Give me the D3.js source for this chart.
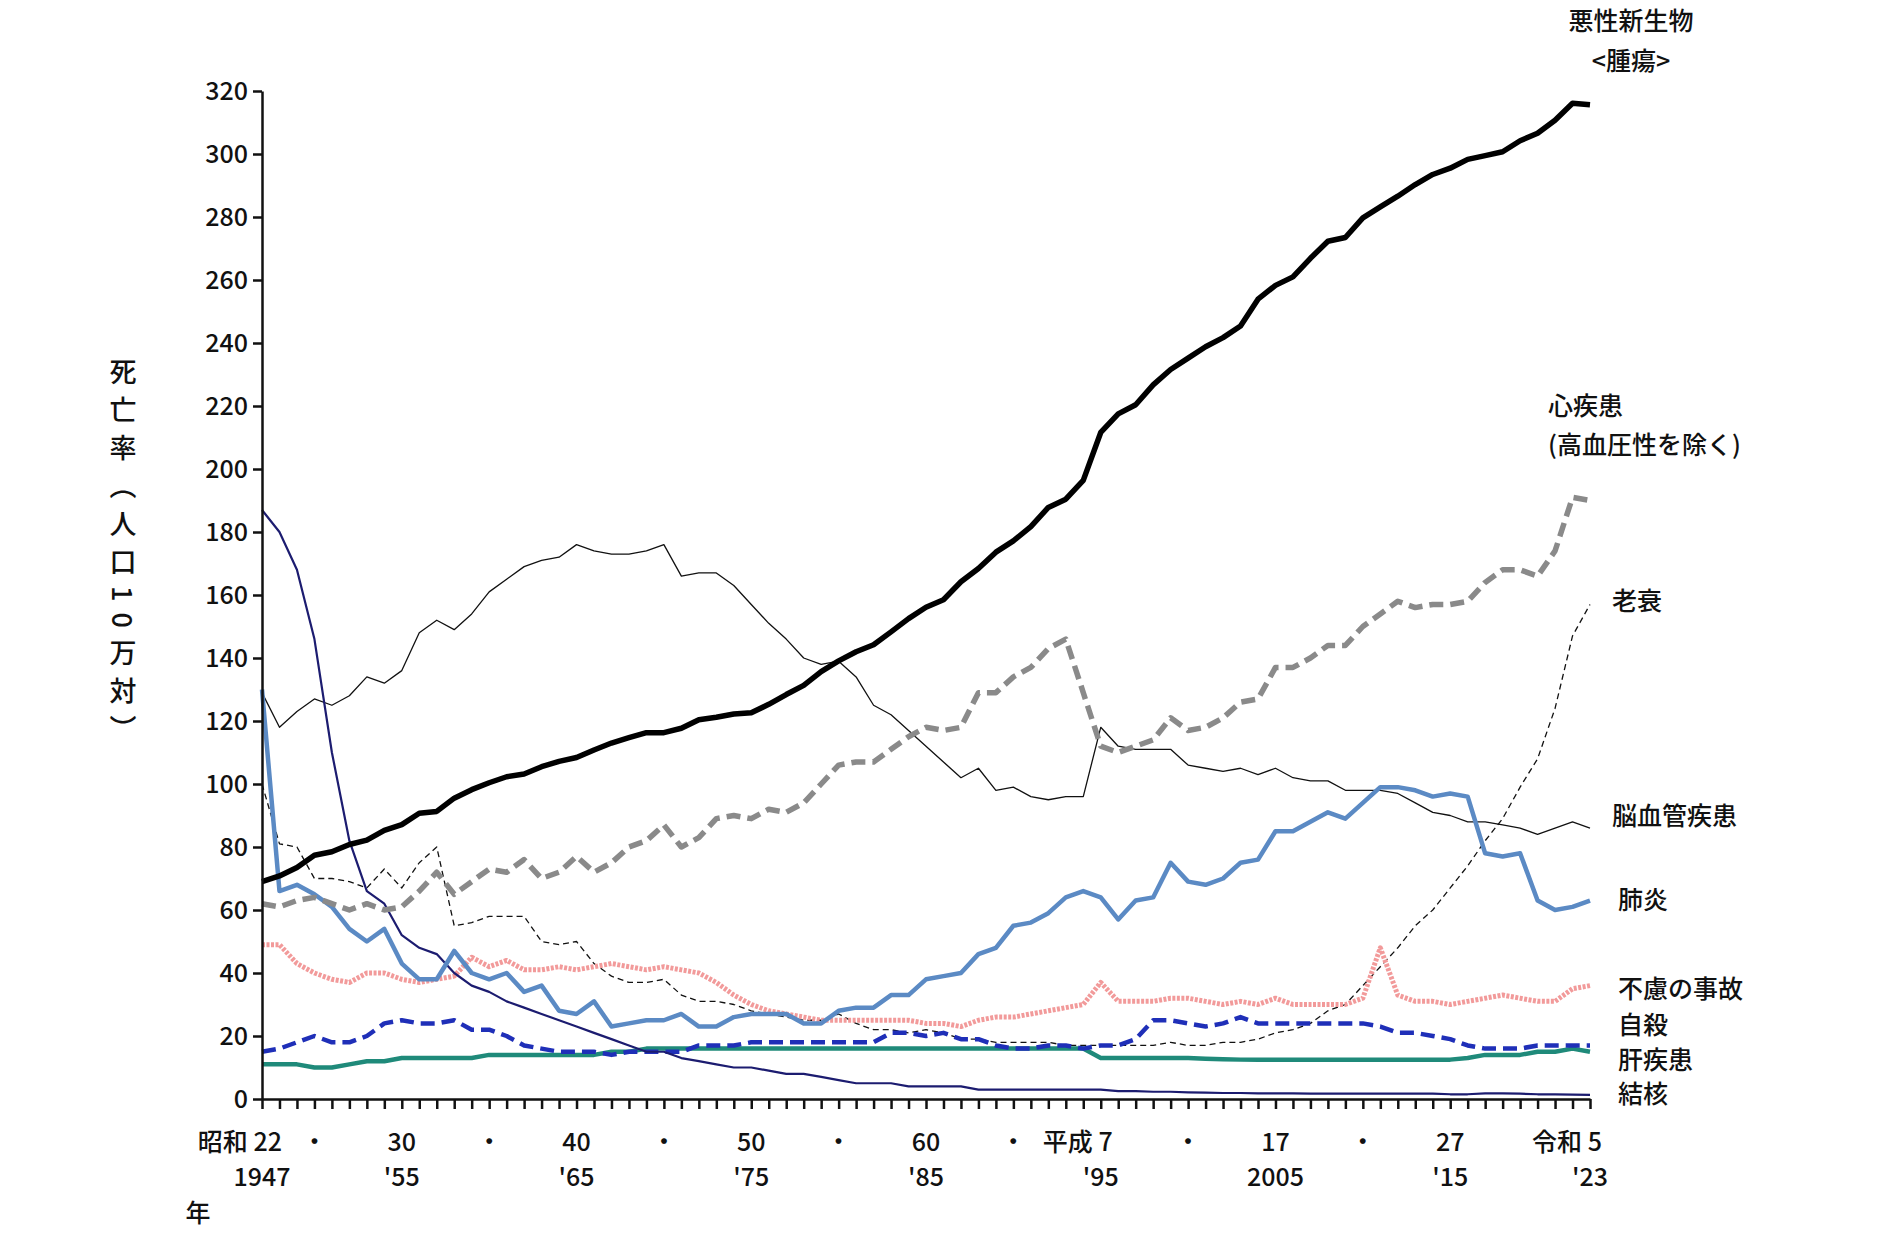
<!DOCTYPE html>
<html><head><meta charset="utf-8">
<script src="https://cdn.jsdelivr.net/npm/d3@7"></script>
<style>
body{margin:0;background:#fff}
text{font-family:"Noto Sans CJK JP","Noto Sans",sans-serif;font-weight:500;fill:#111}
</style></head>
<body><svg id="canvas" width="1898" height="1260"></svg>
<script>
// 年 (1947〜2023)
const years = d3.range(1947, 2024)

const cancer = [69.0,70.8,73.5,77.4,78.5,80.8,82.2,85.3,87.1,90.7,91.3,95.5,98.2,100.4,102.3,103.2,105.5,107.2,108.4,110.8,113.0,114.7,116.3,116.3,117.7,120.4,121.2,122.2,122.6,125.3,128.4,131.3,135.7,139.1,142.0,144.2,148.3,152.5,156.1,158.5,164.2,168.4,173.6,177.2,181.7,187.8,190.4,196.4,211.6,217.5,220.4,226.7,231.6,235.2,238.8,241.7,245.4,253.9,258.3,261.0,266.9,272.3,273.5,279.7,283.2,286.6,290.3,293.5,295.5,298.3,299.5,300.7,304.2,306.6,310.7,316.1,315.6]
const heart = [62,61,63,64,62,60,62,60,61,66,72,65,69,73,72,76,70,72,77,72,75,80,82,87,80,83,89,90,89,92,91,94,100,106,107,107,111,115,118,117,118,129,129,134,137,143,146,129,112,110,112,114,121,117,118,121,126,127,137,137,140,144,144,150,154,158,156,157,157,158,164,168,168,166,174,191,190]
const cerebro = [129,118,123,127,125,128,134,132,136,148,152,149,154,161,165,169,171,172,176,174,173,173,174,176,166,167,167,163,157,151,146,140,138,139,134,125,122,117,112,107,102,105,98,99,96,95,96,96,118,112,111,111,111,106,105,104,105,103,105,102,101,101,98,98,98,97,94,91,90,88,88,87,86,84,86,88,86]
const pneumonia = [130,66,68,65,61,54,50,54,43,38,38,47,40,38,40,34,36,28,27,31,23,24,25,25,27,23,23,26,27,27,27,24,24,28,29,29,33,33,38,39,40,46,48,55,56,59,64,66,64,57,63,64,75,69,68,70,75,76,85,85,88,91,89,94,99,99,98,96,97,96,78,77,78,63,60,61,63]
const tb = [187,180,168,146,110,82,66,62,52,48,46,40,36,34,31,29,27,25,23,21,19,17,15,15,13,12,11,10,10,9,8,8,7,6,5,5,5,4,4,4,4,3,3,3,3,3,3,3,3,2.5,2.5,2.3,2.3,2.1,2.0,1.9,1.9,1.8,1.8,1.8,1.7,1.7,1.7,1.7,1.7,1.7,1.7,1.7,1.5,1.5,1.8,1.8,1.7,1.5,1.5,1.4,1.3]
const accident = [49,49,43,40,38,37,40,40,38,37,38,39,45,42,44,41,41,42,41,42,43,42,41,42,41,40,37,33,30,28,27,26,25,25,25,25,25,25,24,24,23,25,26,26,27,28,29,30,37,31,31,31,32,32,31,30,31,30,32,30,30,30,30,32,48,33,31,31,30,31,32,33,32,31,31,35,36]
const suicide = [15,16,18,20,18,18,20,24,25,24,24,25,22,22,20,17,16,15,15,15,14,15,15,15,15,17,17,17,18,18,18,18,18,18,18,18,21,21,20,21,19,19,17,16,16,17,17,16,17,17,19,25,25,24,23,24,26,24,24,24,24,24,24,24,23,21,21,20,19,17,16,16,16,17,17,17,17]
const liver = [11,11,11,10,10,11,12,12,13,13,13,13,13,14,14,14,14,14,14,14,15,15,16,16,16,16,16,16,16,16,16,16,16,16,16,16,16,16,16,16,16,16,16,16,16,16,16,16,13,13,13,13,13,13,12.8,12.6,12.5,12.5,12.5,12.5,12.5,12.5,12.5,12.5,12.5,12.5,12.5,12.5,12.5,13,14,14,14,15,15,16,15]
const senility = [100,81,80,70,70,69,67,73,67,75,80,55,56,58,58,58,50,49,50,43,39,37,37,38,33,31,31,30,28,27,26,25,25,27,24,22,22,21,22,21,19,19,18,18,18,18,17,17,17,17,17,17,18,17,17,18,18,19,21,22,24,28,30,36,42,48,55,60,67,74,82,89,99,108,124,147,157]

const yTicks = d3.range(0, 321, 20)
const xLabels1 = [[1947,"昭和 22"],[1955,"30"],[1965,"40"],[1975,"50"],[1985,"60"],[1995,"平成 7"],[2005,"17"],[2015,"27"],[2023,"令和 5"]]
const xLabels2 = [[1947,"1947"],[1955,"'55"],[1965,"'65"],[1975,"'75"],[1985,"'85"],[1995,"'95"],[2005,"2005"],[2015,"'15"],[2023,"'23"]]
const dotYears = [1950,1960,1970,1980,1990,2000,2010]

const series = [
  {v:senility, c:"#111", w:1.3, d:"6,4"},
  {v:cerebro, c:"#111", w:1.3, d:null},
  {v:liver, c:"#1f8a7a", w:4.5, d:null},
  {v:suicide, c:"#1f2fb8", w:4.5, d:"14,7"},
  {v:accident, c:"#f29a9a", w:5, d:"3,1.5"},
  {v:tb, c:"#1c1c70", w:2.2, d:null},
  {v:pneumonia, c:"#5b8ac4", w:4.5, d:null},
  {v:heart, c:"#8a8a8a", w:5.5, d:"14,7"},
  {v:cancer, c:"#000", w:5.5, d:null}
]

const labels = [
  [1631,30,"悪性新生物"],[1631,70,"<腫瘍>"],
  [1548,415,"心疾患",true],[1548,454,"(高血圧性を除く)",true],
  [1612,610,"老衰",true],[1612,825,"脳血管疾患",true],[1618,909,"肺炎",true],
  [1618,998,"不慮の事故",true],[1618,1034,"自殺",true],[1618,1069,"肝疾患",true],[1618,1103,"結核",true]
]

const svg = d3.select("#canvas")
const x = d3.scaleLinear().domain([1947, 2023]).range([262, 1590])
const y = d3.scaleLinear().domain([0, 320]).range([1099, 91])

// 線
const line = d3.line().x((d, i) => x(years[i])).y(d => y(d))
series.forEach(s => {
  svg.append("path").datum(s.v)
    .attr("d", line).attr("fill", "none")
    .attr("stroke", s.c).attr("stroke-width", s.w)
    .attr("stroke-linejoin", "round")
    .attr("stroke-dasharray", s.d)
})

// 軸
const yAxis = svg.append("g").attr("transform", "translate(262,0)")
  .call(d3.axisLeft(y).tickValues(yTicks).tickSize(9).tickSizeOuter(0))
yAxis.selectAll("text").attr("font-size", 25).attr("x", -14)
const xAxis = svg.append("g").attr("transform", "translate(0,1099)")
  .call(d3.axisBottom(x).tickValues(years).tickSize(10).tickFormat("").tickSizeOuter(0))
svg.selectAll(".domain, .tick line").attr("stroke", "#111").attr("stroke-width", 2.5)

xLabels1.forEach(([yr, t]) => svg.append("text").attr("x", x(yr)).attr("y", 1151)
  .attr("text-anchor", yr === 1947 ? "end" : (yr === 2023 || yr === 1995) ? "end" : "middle")
  .attr("dx", yr === 1947 ? 20 : (yr === 2023 || yr === 1995) ? 12 : 0)
  .attr("font-size", 25).text(t))
xLabels2.forEach(([yr, t]) => svg.append("text").attr("x", x(yr)).attr("y", 1186)
  .attr("text-anchor", "middle").attr("font-size", 25).text(t))
dotYears.forEach(yr => svg.append("text").attr("x", x(yr)).attr("y", 1151)
  .attr("text-anchor", "middle").attr("font-size", 25).text("・"))
svg.append("text").attr("x", 198).attr("y", 1222).attr("text-anchor", "middle").attr("font-size", 25).text("年")

// 縦タイトル
svg.append("text").attr("transform", "translate(123,358)")
  .attr("writing-mode", "vertical-rl").attr("font-size", 27).attr("letter-spacing", 11)
  .text("死亡率（人口10万対）")

labels.forEach(([lx, ly, t, left]) => svg.append("text").attr("x", lx).attr("y", ly)
  .attr("text-anchor", left ? "start" : "middle").attr("font-size", 25).text(t))
</script></body></html>
